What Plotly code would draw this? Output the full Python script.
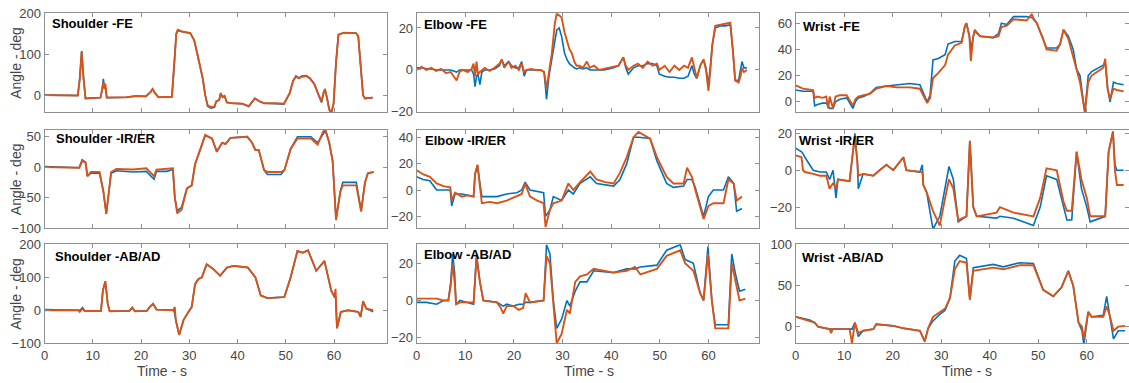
import plotly.graph_objects as go

W, H = 1129, 383

# ---------------- data ----------------
titles = ["Shoulder -FE", "Elbow -FE", "Wrist -FE",
          "Shoulder -IR/ER", "Elbow -IR/ER", "Wrist -IR/ER",
          "Shoulder -AB/AD", "Elbow -AB/AD", "Wrist -AB/AD"]

# Shoulder FE
sfe_t = [0, 3, 6.9, 7.3, 7.7, 8.1, 8.5, 11.6, 11.9, 12.2, 12.4, 12.6, 12.9, 17, 19, 21, 22.0, 22.4, 22.9, 23.6,
         26.4, 26.8, 27.3, 27.6, 28.5, 30.2, 31.0, 31.7, 32.3, 32.8, 33.3, 33.8, 34.5, 35.2, 35.6, 36.2, 36.5, 36.9,
         37.3, 37.8, 39, 41, 42.3, 43.6, 44.5, 45.5, 48, 49.6, 50.8, 51.5, 52.1, 52.7, 53.3, 54.2, 55.0, 55.9, 56.8,
         57.4, 57.8, 58.1, 58.5, 59.0, 59.4, 59.9, 60.4, 60.9, 62, 64.5, 65.0, 65.6, 66.0, 66.4, 68]
sfe_b = [0, -1, -1, 40, 108, 40, -8, -6, 10, 40, 18, 20, -6, -5, -2, -3, 8, 15, 5, -5,
         -4, 60, 150, 158, 156, 152, 135, 100, 65, 40, 0, -27, -32, -30, -15, -12, 5, -5,
         -2, -18, -20, -21, -28, -8, -15, -20, -21, -22, 5, 35, 47, 42, 47, 48, 42, 28, 0,
         -18, 5, 15, -5, -35, -45, -20, 80, 148, 153, 152, 145, 50, 0, -8, -6]
sfe_o = [0, -1, -1, 40, 106, 40, -8, -6, 10, 32, 15, 28, -6, -5, -2, -3, 8, 15, 5, -5,
         -4, 60, 150, 160, 156, 152, 135, 100, 65, 40, 0, -25, -29, -28, -15, -12, 5, -5,
         -2, -18, -20, -21, -27, -8, -15, -20, -20, -21, 5, 35, 45, 41, 45, 47, 41, 27, 0,
         -15, 5, 15, -5, -35, -45, -20, 80, 148, 153, 152, 145, 50, 0, -8, -6]

# Elbow FE
efe_t = [0, 1, 2, 3, 4, 5, 6, 7, 7.6, 8.2, 8.8, 9.5, 10.5, 11.3, 11.7, 12.0, 12.3, 12.6, 13.0, 13.4,
         14, 15, 16, 17, 17.5, 18, 18.9, 19.5, 20.3, 21, 21.6, 22.1, 22.6, 23.5, 24.5, 25.5, 26.2, 26.7, 27.2, 27.8,
         28.4, 28.8, 29.3, 29.8, 30.4, 30.9, 31.4, 31.9, 32.4, 32.9, 33.5, 34.2, 35.0, 35.6, 36.5, 37.5, 38.5, 39.5,
         40.5, 41.5, 42.0, 42.5, 43.0, 43.5, 44.6, 45.5, 46.5, 47.5, 48.5, 49.4, 49.9, 51, 52, 53, 54, 55, 55.8,
         56.6, 57.1, 57.6, 58.3, 59.0, 59.5, 60.0, 60.4, 60.8, 61.4, 62.5, 63.5, 64.5, 65.0, 65.5, 66.2, 66.6,
         66.9, 67.3, 67.9]
efe_b = [1, 1, 0.5, 0.5, 0, 0, 0, 0, -0.5, -1, 0, 0, 0, 0, -2, -8, -3, -2, -7, -1,
         0, 0, 0.5, 2, 5, 2, 4, 2, 1, 1, 4, -3, 0, 0, 0, 0, -1, -14, -3, 5,
         15, 19, 20, 16, 8, 5, 3, 2, 1, 0.5, 1, 0.5, 1, 0, 0, 0, 0, 0.5,
         1, 2, 4, 6, 1, -2, 1, 2, 2, 3, 3, 2, -2, -3, -3.5, -3.5, -4, -4, -3,
         2, -2, -4, 2, 5, 1, -7, 2, 12, 20, 21, 21, 21.5, 10, -5, -5, 0,
         4, 1, 1]
efe_o = [0, 1.5, 0, 1, -0.5, 0.5, -1.5, -1, -3, -5, -1, 0, -1, 0.5, 3, -3, 4, -2, -1, 0,
         1, -0.5, 1, 3, 5, 1, 4, 1, 2, 0, 3, -1, 0, 0.5, 0, 0, -1, -9, -2, 8,
         22, 27, 26, 25, 18, 14, 10, 8, 4, 2, 2, 1, 4, 1, 2, 0, 0.5, 1,
         1.5, 2, 4, 6, 2, 0, 2, 3, 1, 4, 2, 3, 0, 2, -1, 2, 0, 2, 1,
         6, 1, -4, 2, 5, 0, -10, 0, 12, 21, 21.5, 22, 22.5, 10, -5, -6, -3,
         1, -1, 0]

# Wrist FE
wfe_t = [0, 1.5, 3.6, 3.9, 4.5, 5.5, 6.3, 6.7, 7.0, 7.7, 8.2, 9.1, 10.5, 11.8, 12.3, 12.9, 14, 15.3, 16.6, 18.7,
         20.8, 23.5, 25.6, 26.5, 27.1, 27.7, 28.3, 29.4, 30.8, 31.4, 32.8, 34.2, 34.9, 35.2, 35.8, 36.1, 36.6, 36.9,
         38, 40.7, 41.8, 42.4, 43.5, 44.9, 47.6, 48.7, 49.0, 49.7, 51.0, 51.7, 53.8, 54.5, 55.2, 56.2, 57.2, 57.9,
         58.6, 59.6, 60.3, 61.0, 63.4, 63.8, 64.3, 64.8, 65.5, 66.2, 67.6]
wfe_b = [9, 8, 8, -3, -2, -1, -1, -3, -5, -5, 0, 2, 3, -5, 0, 3, 4, 6.5, 11, 12,
         13, 14, 13, 5, 0, 5, 32, 33, 36, 44, 46, 46, 58, 60, 50, 40, 50, 55,
         50, 49, 52, 60, 59, 65, 65, 64, 64, 60, 48, 41, 41, 44, 55, 50, 40, 25,
         20, -8, 20, 23, 28, 30, 10, 0, 15, 14, 13]
wfe_o = [12.5, 10, 9, 3, 4, 3, 4, -5, 4, -5, 4, 5, 5, -3, 2, 4, 5, 6, 10, 12,
         11, 11, 10, 3, -1, 3, 18, 22, 28, 36, 43, 45, 58, 60, 50, 31, 50, 54,
         50, 49, 50, 57, 58, 63, 62, 67, 63, 60, 48, 40, 39, 44, 55, 48, 35, 25,
         15, -8, 15, 20, 26, 32.8, 10, 2, 10, 9, 8]

# Shoulder IR/ER
sir_t = [0, 7.2, 7.8, 8.5, 8.9, 9.6, 11.4, 12.2, 12.8, 13.3, 13.8, 14.9, 18.3, 21.1, 22.7, 23.2, 25.3, 26.6,
         27.0, 27.5, 28.4, 29.5, 30.5, 31.2, 32.3, 33.3, 34.7, 35.7, 36.8, 37.5, 38.5, 42.0, 43.0, 43.7, 44.4,
         45.5, 46.2, 49.0, 49.7, 51.0, 52.4, 55.2, 56.6, 57.7, 58.2, 59.0, 59.7, 60.4, 61.3, 61.8, 64.6, 65.6,
         66.4, 67.0, 68.2]
sir_b = [1, -1, 12, 8, -15, -10, -10, -40, -77, -40, -10, -6, -8, -7, -20, -7, -7, -4,
         -50, -72, -66, -35, -30, 5, 30, 52, 47, 25, 40, 38, 48, 50, 40, 28, 28,
         -5, -12, -12, -5, 30, 50, 50, 40, 55, 60, 40, 10, -85, -40, -25, -25, -72,
         -25, -10, -8]
sir_o = [0, -1, 10, 8, -15, -8, -8, -40, -77, -40, -8, -3, -4, -2, -15, -4, -2, -2,
         -50, -76, -70, -35, -30, 5, 30, 53, 47, 26, 40, 38, 48, 50, 40, 28, 28,
         -5, -8, -8, -5, 30, 47, 47, 37, 58, 62, 40, 10, -87, -40, -30, -30, -73,
         -25, -10, -8]

# Elbow IR/ER
eir_t = [0, 1.3, 2.7, 4.1, 5.5, 6.9, 7.2, 7.9, 9.3, 10.5, 11.7, 12.0, 12.5, 13.0, 13.4, 15, 16.5, 18.5, 20.6,
         21.6, 22.3, 23.3, 24.8, 26.1, 26.5, 27.4, 28.1, 29.8, 31.2, 32.2, 33.6, 35.7, 37.0, 38.8, 40.5, 41.8,
         43.2, 44.6, 45.6, 48.0, 49.4, 51.4, 52.8, 54.9, 55.6, 56.6, 57.3, 59.0, 60.0, 61.0, 63.1, 64.1, 65.2,
         65.8, 66.9]
eir_b = [10, 8, 7, 0, 0, 0, -12, -3, -3, -4, -5, 12, 19, 5, -5, -5, -5, -3, -2,
         0, 6, 0, -1, -2, -20, -15, -5, -8, 0, -3, 5, 10, 5, 4, 3, 8,
         20, 40, 40, 39, 22, 5, 2, 3, 8, 8, 2, -20, -5, 0, 0, 10, 5,
         -16, -14]
eir_o = [15, 12, 10, 5, 3, 2, -8, -2, -5, -4, -5, 12, 19, 5, -10, -9, -10, -8, -5,
         -3, 5, -5, -8, -10, -28, -15, -10, -8, 5, 0, 6, 14, 8, 6, 5, 13,
         25, 40, 44, 39, 25, 10, 5, 5, 17, 10, 0, -22, -12, -10, -10, 8, 5,
         -8, -5]

# Wrist IR/ER
wir_t = [0, 1.2, 1.5, 1.9, 3.6, 5.0, 6.3, 7.0, 7.7, 8.3, 8.7, 11.1, 11.8, 12.2, 12.7, 12.9, 13.9, 16.0, 17.3,
         18.7, 20.1, 22.2, 22.8, 25.6, 26.1, 26.3, 27.0, 28.3, 29.7, 30.8, 31.6, 32.5, 33.5, 35.2, 35.9, 36.6,
         37.3, 41.4, 42.1, 44.9, 49.0, 50.4, 51.7, 53.8, 55.2, 55.9, 56.9, 57.9, 58.9, 60.0, 60.7, 63.8, 64.5,
         65.4, 65.8, 66.2, 67.6]
wir_b = [12, 10, 9, 7, 0, -1, -1, -5, 0, -15, -5, -6, 10, 20, 5, -10, -2, -3, 0,
         3, 0, 7, 0, -1, 3, -8, -12, -32, -25, -10, 2, -5, -28, -25, 16, -20,
         -25, -26, -25, -26, -30, -20, -3, -5, -20, -27, -27, 10, -10, -20, -28, -25, 10,
         21, 3, 0, 0]
wir_o = [8, 7, 0, -1, -2, -3, -3, -10, -7, -10, -5, -6, 10, 17, 5, -3, -2, -3, 0,
         3, 0, 7, 0, -1, -1, -8, -12, -22, -30, -15, -5, -10, -27, -25, 16, -20,
         -25, -23, -20, -23, -25, -15, 1, 0, -17, -22, -22, 10, -5, -15, -25, -25, 10,
         21, 0, -8, -8]

# Shoulder AB/AD
sab_t = [0, 7.0, 7.3, 7.9, 8.3, 11.7, 12.1, 12.6, 13.1, 13.5, 17.6, 18.2, 18.7, 21.2, 21.8, 22.5, 23.2, 26.7,
         27.0, 27.2, 27.9, 28.8, 29.8, 30.5, 31.2, 31.9, 32.6, 33.6, 35.0, 36.4, 37.8, 39.2, 42.1, 43.7, 44.8,
         46.2, 49.7, 51.0, 52.4, 53.5, 54.6, 56.3, 58.0, 59.4, 60.1, 60.3, 60.6, 61.4, 62.9, 65.0, 65.5, 66.0,
         66.7, 68.1]
sab_b = [2, 0, 0, 8, -2, -2, 60, 88, 20, -3, -2, 8, -3, -2, 10, 20, 2, 0,
         -10, -30, -75, -30, -5, 10, 80, 95, 100, 140, 125, 105, 130, 135, 130, 100, 45,
         37, 40, 100, 180, 175, 182, 120, 150, 60, 40, 40, -55, -5, 0, -5, -20, 25,
         5, -5]
sab_o = [0, 0, -5, 5, -2, -2, 60, 88, 20, -3, -2, 8, -3, -2, 10, 20, 2, 0,
         10, -30, -75, -30, -5, 10, 80, 95, 100, 140, 125, 105, 130, 135, 130, 100, 45,
         37, 40, 100, 180, 175, 182, 120, 150, 60, 40, 65, -55, -5, 0, -5, -20, 28,
         5, 0]

# Elbow AB/AD
eab_t = [0, 2, 4.1, 5.5, 6.5, 7.0, 7.4, 7.8, 8.1, 8.9, 11.7, 12.3, 13.0, 13.7, 16.5, 17.3, 17.8, 18.5, 19.9,
         21.0, 21.9, 22.4, 23.3, 26.1, 26.7, 27.4, 28.1, 28.8, 29.8, 30.9, 31.5, 32.6, 33.6, 35.0, 36.4, 40.5,
         43.2, 44.9, 46.0, 49.4, 51.4, 54.2, 55.2, 56.9, 58.3, 59.0, 59.9, 60.7, 61.4, 64.1, 64.8, 65.5, 66.4,
         67.6]
eab_b = [-1, -1, -2, 0, 0, 10, 25, 15, -2, 0, -2, 25, 10, 0, -1, -2, -3, -2, -3,
         -2, -2, -1, -1, 0, 30, 25, 0, -15, -10, 0, -3, 5, 10, 10, 16, 15,
         17, 17, 18, 19, 27, 30, 22, 20, 4, 0, 29, 0, -13, -13, 25, 15, 5,
         6]
eab_o = [1, 1, 1, 0, 0, 8, 20, 10, -2, -1, -1, 23, 10, 0, -1, -4, -7, -3, -3,
         -5, -4, 4, -1, 0, 24, 20, 0, -23, -18, -5, -7, 10, 13, 14, 17, 15,
         16, 18, 14, 17, 24, 27, 20, 16, 4, 0, 25, 0, -15, -15, 20, 12, 0,
         1]

# Wrist AB/AD
wab_t = [0, 2.9, 3.9, 4.6, 7.0, 7.3, 7.6, 11.1, 11.6, 12.2, 12.9, 13.9, 16.0, 16.6, 20.1, 22.2, 25.6, 26.6,
         27.3, 28.3, 29.7, 30.8, 31.8, 32.8, 33.8, 35.2, 35.9, 36.6, 40.7, 42.8, 46.2, 49.0, 51.0, 53.1, 54.8,
         56.2, 57.2, 58.3, 59.0, 59.4, 60.3, 61.0, 63.4, 64.1, 64.8, 65.5, 66.5, 67.9]
wab_b = [12, 8, 5, 0, -3, -3, -3, -3, -3, 5, -12, -5, -3, 3, 1, -2, -5, -18,
         -2, 7, 15, 20, 35, 80, 87, 83, 33, 72, 76, 73, 78, 77, 45, 37, 48,
         68, 50, 5, -5, -22, 18, 12, 14, 37, 10, -15, -5, -5]
wab_o = [12, 7, 5, 0, -3, -8, -3, -3, -20, 5, -8, -5, -3, 3, 1, -2, -5, -18,
         -2, 12, 18, 22, 35, 70, 80, 78, 33, 68, 72, 70, 75, 75, 45, 37, 48,
         68, 50, 5, 0, -15, 18, 12, 12, 25, 12, -5, 0, 1]

y_ranges = [[-42, 200.5], [-20.2, 27], [-8, 67.5],
            [-100.5, 61], [-29, 45.5], [-31.5, 21.8],
            [-100.5, 200.5], [-23, 30.2], [-20.3, 100.5]]
y_ticks = [[0, 100, 200], [-20, 0, 20], [0, 20, 40, 60],
           [-100, -50, 0, 50], [-20, 0, 20, 40], [-20, 0, 20],
           [-100, 0, 100, 200], [-20, 0, 20], [0, 50, 100]]
x_ticks = [0, 10, 20, 30, 40, 50, 60]
x_ranges = [[0, 70.9], [0, 70.4], [0, 68.6]]

series = [(sfe_t, sfe_b, sfe_o), (efe_t, efe_b, efe_o), (wfe_t, wfe_b, wfe_o),
          (sir_t, sir_b, sir_o), (eir_t, eir_b, eir_o), (wir_t, wir_b, wir_o),
          (sab_t, sab_b, sab_o), (eab_t, eab_b, eab_o), (wab_t, wab_b, wab_o)]

# ---------------- layout geometry (pixels) ----------------
col_px = [(44.5, 386.7), (416.7, 759.0), (795.7, 1128.5)]
row_px = [(13.3, 112.3), (130.0, 228.3), (244.3, 343.3)]
title_off = [(5, 10), (5, 11), (5, 13), (9, 8), (6, 11), (1.6, 10), (8, 12), (5, 10), (4, 13)]

BLUE = "#0072BD"
ORANGE = "#D95319"
AXC = "#8f8f8f"
TXT = "#454545"
FONT = "Liberation Sans, Arial, sans-serif"

fig = go.Figure()
annotations = []
layout = {}

for i in range(9):
    r, c = divmod(i, 3)
    sfx = "" if i == 0 else str(i + 1)
    t, b, o = series[i]
    fig.add_trace(go.Scatter(x=t, y=b, mode="lines", line=dict(color=BLUE, width=1.6),
                             xaxis="x" + sfx, yaxis="y" + sfx, showlegend=False))
    fig.add_trace(go.Scatter(x=t, y=o, mode="lines", line=dict(color=ORANGE, width=1.9),
                             xaxis="x" + sfx, yaxis="y" + sfx, showlegend=False))
    x0, x1 = col_px[c]
    y0, y1 = row_px[r]
    layout["xaxis" + sfx] = dict(
        domain=[x0 / W, x1 / W], anchor="y" + sfx, range=x_ranges[c],
        tickvals=x_ticks, showticklabels=(r == 2),
        ticks="inside", ticklen=4, tickcolor=AXC, mirror="ticks",
        showline=True, linecolor=AXC, linewidth=1, showgrid=False, zeroline=False,
        tickfont=dict(size=13, color=TXT, family=FONT), automargin=False)
    layout["yaxis" + sfx] = dict(
        domain=[1 - y1 / H, 1 - y0 / H], anchor="x" + sfx, range=y_ranges[i],
        tickvals=y_ticks[i], ticks="inside", ticklen=4, tickcolor=AXC, mirror="ticks",
        showline=True, linecolor=AXC, linewidth=1, showgrid=False, zeroline=False,
        tickfont=dict(size=13, color=TXT, family=FONT), automargin=False)
    dx, dy = title_off[i]
    annotations.append(dict(text="<b>%s</b>" % titles[i], xref="paper", yref="paper",
                            x=(x0 + dx) / W, y=1 - (y0 + dy) / H, xanchor="left", yanchor="middle",
                            showarrow=False, font=dict(size=13, color="black", family=FONT)))

for r in range(3):
    y0, y1 = row_px[r]
    annotations.append(dict(text="Angle - deg", xref="paper", yref="paper", x=16 / W,
                            y=1 - (y0 + y1) / 2 / H, textangle=-90, showarrow=False,
                            xanchor="center", yanchor="middle",
                            font=dict(size=14, color=TXT, family=FONT)))

for xc in [162, 589, 967]:
    annotations.append(dict(text="Time - s", xref="paper", yref="paper", x=xc / W,
                            y=1 - 371 / H, showarrow=False, xanchor="center", yanchor="middle",
                            font=dict(size=14, color=TXT, family=FONT)))

fig.update_layout(width=W, height=H, margin=dict(l=0, r=0, t=0, b=0),
                  paper_bgcolor="white", plot_bgcolor="white", hovermode=False,
                  annotations=annotations, showlegend=False, **layout)

fig.write_html("out.html", config={"displayModeBar": False},
               post_script="document.body.style.margin='0';document.body.style.padding='0';"
                           "document.body.style.overflow='hidden';")
